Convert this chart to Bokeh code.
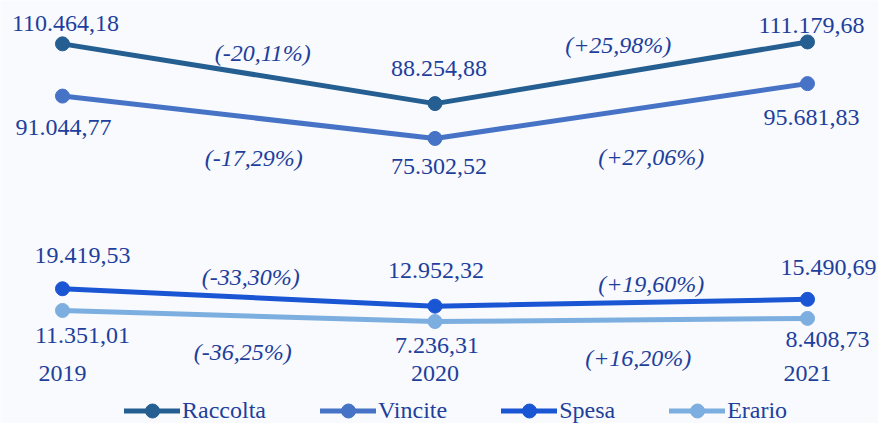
from bokeh.plotting import figure
from bokeh.models import Range1d, ColumnDataSource, Legend, LegendItem
from bokeh.core.properties import value
from bokeh.embed import file_html
from bokeh.resources import INLINE

# ---- data ----
years = [2019, 2020, 2021]
year_labels = ["2019", "2020", "2021"]
series_names = ["Raccolta", "Vincite", "Spesa", "Erario"]
raccolta = [110464.18, 88254.88, 111179.68]
vincite = [91044.77, 75302.52, 95681.83]
spesa = [19419.53, 12952.32, 15490.69]
erario = [11351.01, 7236.31, 8408.73]

# ---- styles / layout ----
colors = ["#255e91", "#4673c6", "#1a55d4", "#7caee0"]
TEXT = "#1e3f9c"
FONT = "Liberation Serif"
BG = "#f8fafd"
# value label pixel offsets (dx, dy) per series and year
val_off = [
    [(3, -20), (4, -35), (4, -16)],
    [(1, 31), (4, 28), (4, 34)],
    [(20, -33), (1, -36), (21, -32)],
    [(20, 25), (2, 24), (20, 21)],
]
# percent label offsets from segment midpoints
pct_off = [
    [(14, -21), (-3, -28)],
    [(5, 41), (30, 46)],
    [(2, -20), (30, -19)],
    [(-6, 36), (17, 38)],
]


def fmt_it(v):
    s = f"{v:,.2f}"
    return s.replace(",", "X").replace(".", ",").replace("X", ".")


def fmt_pct(a, b):
    pc = (b / a - 1) * 100
    s = f"{pc:+.2f}".replace(".", ",")
    return f"({s}%)"


p = figure(width=878, height=423, output_backend="svg", toolbar_location=None,
           x_range=Range1d(2018.8336, 2021.1906), y_range=Range1d(-30669, 126580),
           min_border=0)
p.xaxis.visible = False
p.yaxis.visible = False
p.grid.visible = False
p.outline_line_color = None
p.background_fill_color = BG
p.border_fill_color = BG

all_series = [raccolta, vincite, spesa, erario]
items = []
for i, (name, vals) in enumerate(zip(series_names, all_series)):
    src = ColumnDataSource(dict(x=years, y=vals))
    lr = p.line("x", "y", source=src, line_color=colors[i], line_width=5,
                line_cap="round")
    sr = p.scatter("x", "y", source=src, size=14, fill_color=colors[i],
                   line_color=colors[i])
    items.append(LegendItem(label=name, renderers=[lr, sr]))
    # value labels
    for j in range(3):
        dx, dy = val_off[i][j]
        p.text(x=[years[j]], y=[vals[j]], text=[fmt_it(vals[j])],
               x_offset=dx, y_offset=dy, text_align="center",
               text_baseline="middle", text_font=value(FONT),
               text_font_size="24px", text_color=TEXT)
    # percent labels
    for j in range(2):
        dx, dy = pct_off[i][j]
        p.text(x=[(years[j] + years[j + 1]) / 2], y=[(vals[j] + vals[j + 1]) / 2],
               text=[fmt_pct(vals[j], vals[j + 1])],
               x_offset=dx, y_offset=dy, text_align="center",
               text_baseline="middle", text_font=value(FONT),
               text_font_style="italic",
               text_font_size="24px", text_color=TEXT)

# year labels
p.text(x=years, y=[0] * 3, text=year_labels, y_offset=32, text_align="center",
       text_baseline="middle", text_font=value(FONT), text_font_size="24px",
       text_color=TEXT)

legend = Legend(items=items, orientation="horizontal", location=(124, -5),
                glyph_width=56, glyph_height=35, label_height=35,
                label_standoff=2, spacing=54, padding=0, margin=0,
                label_text_font=FONT, label_text_font_size="24px",
                label_text_color=TEXT, background_fill_alpha=0,
                border_line_color=None)
p.add_layout(legend)

open("out.html", "w").write(file_html(p, INLINE))
